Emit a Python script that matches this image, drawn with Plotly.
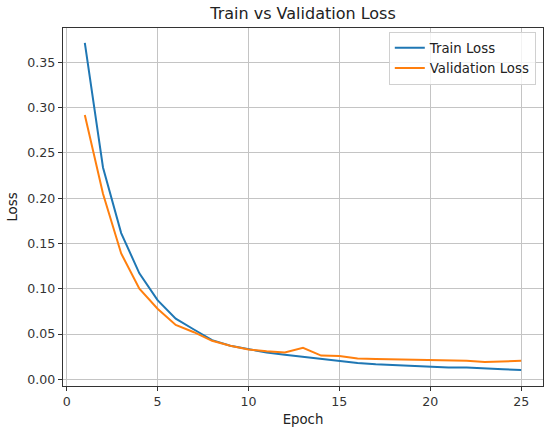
import plotly.graph_objects as go

epochs = list(range(1, 26))
train_loss = [0.3715, 0.234, 0.1615, 0.117, 0.0874, 0.067, 0.055, 0.0432, 0.037, 0.033,
              0.0295, 0.027, 0.0247, 0.023, 0.0205, 0.018, 0.0166, 0.0155, 0.0144, 0.0137,
              0.013, 0.013, 0.0118, 0.011, 0.0103]
val_loss = [0.292, 0.205, 0.139, 0.100, 0.078, 0.060, 0.052, 0.0425, 0.037, 0.033,
            0.031, 0.0295, 0.0347, 0.0262, 0.0258, 0.0229, 0.0225, 0.022, 0.0218, 0.0207,
            0.021, 0.0205, 0.019, 0.0195, 0.0205]
x_ticks = [0, 5, 10, 15, 20, 25]
y_ticks = [0.00, 0.05, 0.10, 0.15, 0.20, 0.25, 0.30, 0.35]

font = "DejaVu Sans"
fig = go.Figure()
fig.add_trace(go.Scatter(x=epochs, y=train_loss, mode="lines", name="Train Loss",
                         line=dict(color="#1f77b4", width=2)))
fig.add_trace(go.Scatter(x=epochs, y=val_loss, mode="lines", name="Validation Loss",
                         line=dict(color="#ff7f0e", width=2)))

axis_common = dict(showline=True, mirror=True, linecolor="#333333", linewidth=1.2,
                   ticks="outside", ticklen=4, tickcolor="#333333",
                   showgrid=True, gridcolor="#c4c4c4", gridwidth=1, zeroline=False,
                   tickfont=dict(family=font, size=12.6, color="#333333"))

fig.update_layout(
    width=550, height=433,
    margin=dict(l=63, r=7, t=28, b=47),
    paper_bgcolor="white", plot_bgcolor="white",
    title=dict(text="Train vs Validation Loss", xref="paper", x=0.5, xanchor="center",
               y=0.970, yanchor="middle",
               font=dict(family=font, size=16, color="#222222")),
    xaxis=dict(range=[-0.2, 26.2], tickvals=x_ticks,
               title=dict(text="Epoch", font=dict(family=font, size=13.3, color="#222222"), standoff=6),
               **axis_common),
    yaxis=dict(range=[-0.0074, 0.388], tickvals=y_ticks, tickformat=".2f",
               title=dict(text="Loss", font=dict(family=font, size=13.3, color="#222222"), standoff=6),
               **axis_common),
    legend=dict(x=0.985, y=0.99, xanchor="right", yanchor="top", itemwidth=30,
                bgcolor="rgba(255,255,255,0.8)", bordercolor="#d0d0d0", borderwidth=1,
                font=dict(family=font, size=13.3, color="#222222"), tracegroupgap=0),
    showlegend=True,
)

fig.write_html("out.html", config={"displayModeBar": False},
               post_script="document.body.style.margin='0';")
